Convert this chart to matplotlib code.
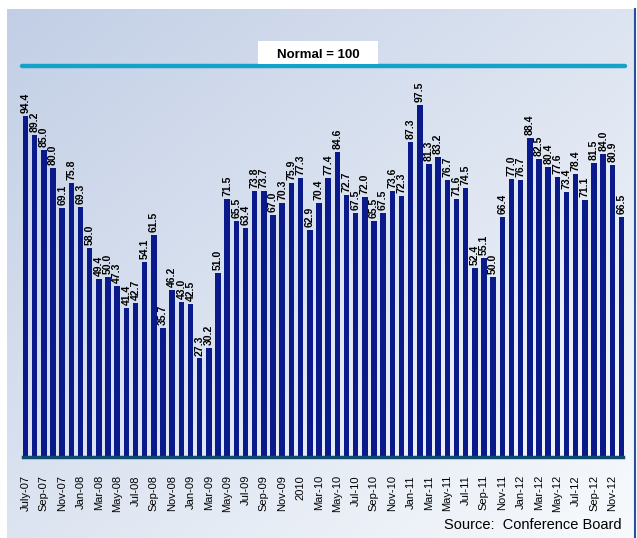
import numpy as np
import matplotlib
matplotlib.use("Agg")
import matplotlib.pyplot as plt
from matplotlib.patches import Rectangle

# monthly index, July 2007 .. Dec 2012
values = [94.4, 89.2, 85.0, 80.0, 69.1, 75.8,
          69.3, 58.0, 49.4, 50.0, 47.3, 41.4, 42.7, 54.1, 61.5, 35.7, 46.2, 43.0,
          42.5, 27.3, 30.2, 51.0, 71.5, 65.5, 63.4, 73.8, 73.7, 67.0, 70.3, 75.9,
          77.3, 62.9, 70.4, 77.4, 84.6, 72.7, 67.5, 72.0, 65.5, 67.5, 73.6, 72.3,
          87.3, 97.5, 81.3, 83.2, 76.7, 71.6, 74.5, 52.4, 55.1, 50.0, 66.4, 77.0,
          76.7, 88.4, 82.5, 80.4, 77.6, 73.4, 78.4, 71.1, 81.5, 84.0, 80.9, 66.5]

tick_labels = ["July-07", "Sep-07", "Nov-07",
               "Jan-08", "Mar-08", "May-08", "Jul-08", "Sep-08", "Nov-08",
               "Jan-09", "Mar-09", "May-09", "Jul-09", "Sep-09", "Nov-09",
               "2010", "Mar-10", "May-10", "Jul-10", "Sep-10", "Nov-10",
               "Jan-11", "Mar-11", "May-11", "Jul-11", "Sep-11", "Nov-11",
               "Jan-12", "Mar-12", "May-12", "Jul-12", "Sep-12", "Nov-12"]

normal_label = "Normal = 100"
source = "Source:  Conference Board"

W, H = 637, 538
fig = plt.figure(figsize=(W / 100, H / 100), dpi=100)
fig.patch.set_facecolor("white")

# gradient panel behind everything
bg = fig.add_axes([7 / W, 0, (634 - 7) / W, (H - 9) / H], zorder=0)
gx, gy = np.meshgrid(np.linspace(0, 1, 200), np.linspace(0, 1, 200))
t = (gx + gy) / 2
c0 = np.array([0.76, 0.81, 0.90])
c1 = np.array([0.97, 0.98, 0.99])
img = c0[None, None, :] * (1 - t[..., None]) + c1[None, None, :] * t[..., None]
bg.imshow(img, aspect="auto", extent=[0, 1, 0, 1], origin="upper")
bg.axis("off")
fig.add_artist(plt.Line2D([635 / W, 635 / W], [0, (H - 9) / H], color="#2a4f9e", lw=1.5))

# main axes
left, right = 18, 627
base, top = 457, 30
ax = fig.add_axes([left / W, (H - base) / H, (right - left) / W, (base - top) / H], zorder=1)
ax.patch.set_alpha(0)
x = np.arange(len(values))
ax.bar(x, values, width=0.6, color="#0b1a8a", zorder=2)
ax.set_xlim(-0.82, 65.6)
ax.set_ylim(0, (base - top) / 3.61)

for xi, v in zip(x, values):
    ax.text(xi, v + 0.8, f"{v:.1f}", rotation=90, ha="center", va="bottom",
            fontsize=7.5, fontweight="bold", family="Liberation Sans", color="black")

ax.set_xticks(x[::2])
ax.set_xticklabels(tick_labels, rotation=90, fontsize=8, family="Liberation Sans")
ax.tick_params(axis="x", length=0, pad=13)
ax.set_yticks([])
for s in ax.spines.values():
    s.set_visible(False)
ax.plot([x[0] - 0.3, x[-1] + 0.15], [0, 0], color="#0d4a6e", lw=2.5, zorder=3, clip_on=False)

# normal line (decorative, drawn at its place in the panel)
ly = (base - 66) / (base - top)
ax.plot([4 / (right - left), (625 - left) / (right - left)], [ly, ly],
        transform=ax.transAxes, color="#14a2c9", lw=3.2, solid_capstyle="round", clip_on=False)
fig.add_artist(Rectangle((258 / W, (H - 64) / H), 120 / W, 23 / H,
                         transform=fig.transFigure, fc="white", ec="none", zorder=2))
fig.text(318 / W, (H - 55) / H, normal_label, ha="center", va="center", fontsize=9.5,
         fontweight="bold", family="Liberation Sans", zorder=3)

fig.text(622 / W, (H - 525) / H, source, ha="right", va="center", fontsize=10.5,
         family="Liberation Sans")

fig.savefig("out.png", dpi=100)
